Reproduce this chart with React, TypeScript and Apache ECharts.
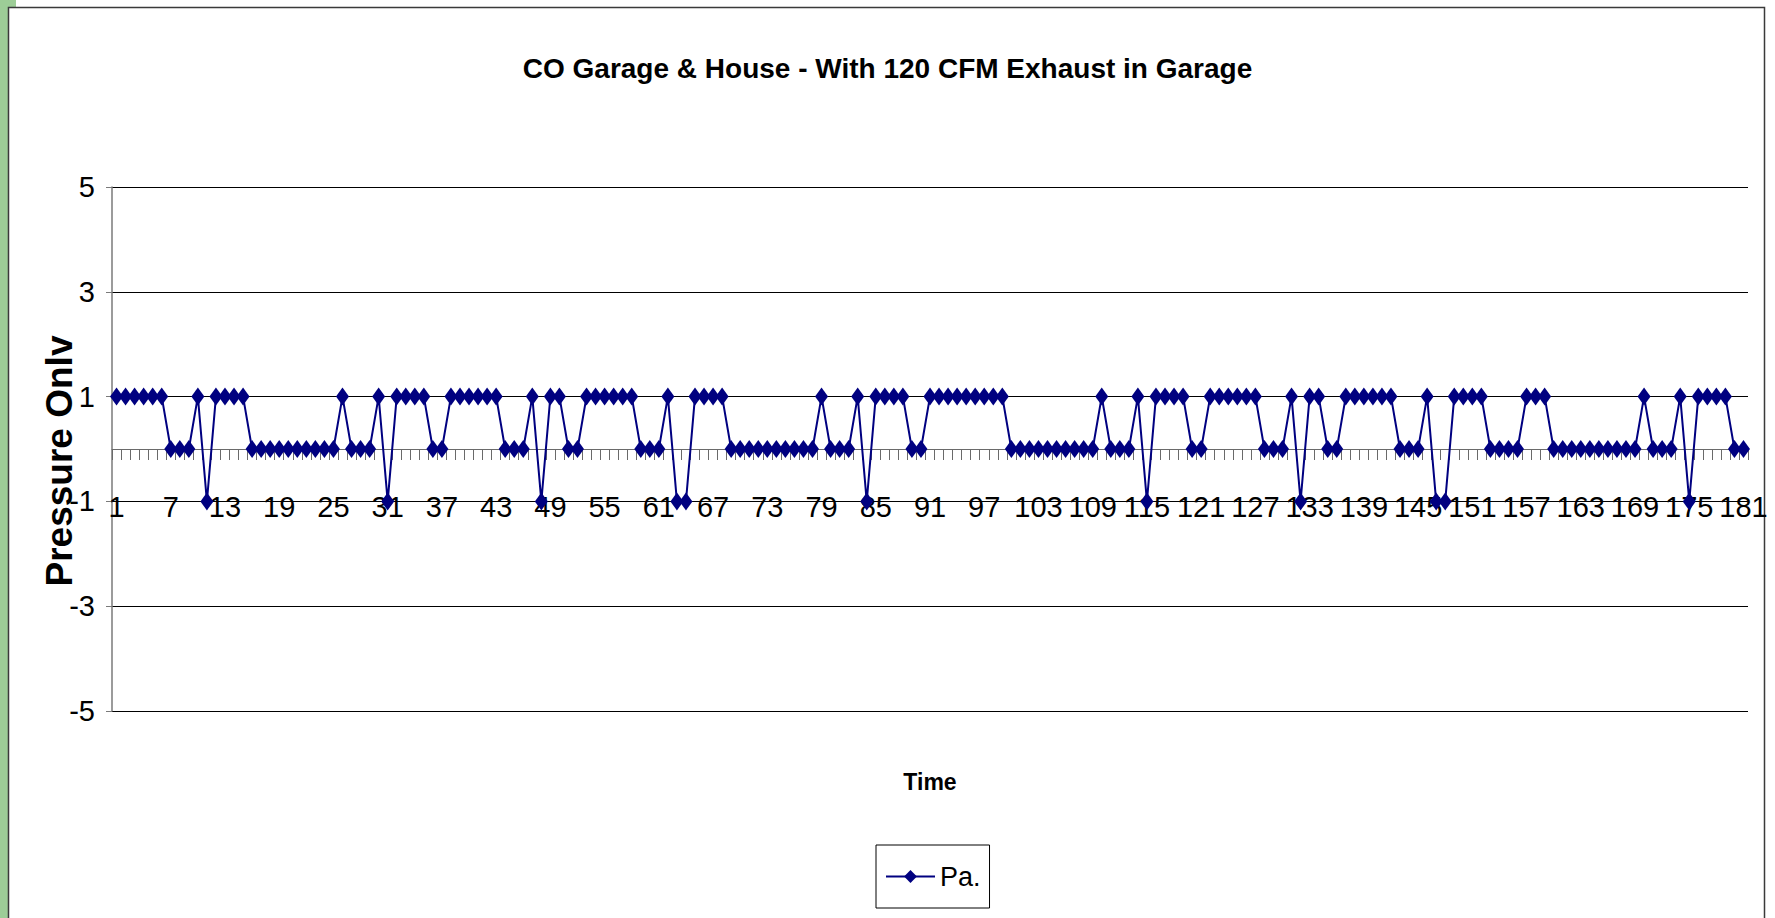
import React, { useEffect, useRef } from "react";
import * as echarts from "echarts";

const titleText = "CO Garage & House - With 120 CFM Exhaust in Garage";
const yAxisName = "Pressure Onlv";
const xAxisName = "Time";
const seriesName = "Pa.";

const timeCategories: string[] = Array.from({ length: 181 }, (_, i) => String(i + 1));

const yTickValues = [-5, -3, -1, 1, 3, 5];

const pressureValues = [
  1, 1, 1, 1, 1, 1, 0, 0, 0, 1,
  -1, 1, 1, 1, 1, 0, 0, 0, 0, 0,
  0, 0, 0, 0, 0, 1, 0, 0, 0, 1,
  -1, 1, 1, 1, 1, 0, 0, 1, 1, 1,
  1, 1, 1, 0, 0, 0, 1, -1, 1, 1,
  0, 0, 1, 1, 1, 1, 1, 1, 0, 0,
  0, 1, -1, -1, 1, 1, 1, 1, 0, 0,
  0, 0, 0, 0, 0, 0, 0, 0, 1, 0,
  0, 0, 1, -1, 1, 1, 1, 1, 0, 0,
  1, 1, 1, 1, 1, 1, 1, 1, 1, 0,
  0, 0, 0, 0, 0, 0, 0, 0, 0, 1,
  0, 0, 0, 1, -1, 1, 1, 1, 1, 0,
  0, 1, 1, 1, 1, 1, 1, 0, 0, 0,
  1, -1, 1, 1, 0, 0, 1, 1, 1, 1,
  1, 1, 0, 0, 0, 1, -1, -1, 1, 1,
  1, 1, 0, 0, 0, 0, 1, 1, 1, 0,
  0, 0, 0, 0, 0, 0, 0, 0, 0, 1,
  0, 0, 0, 1, -1, 1, 1, 1, 1, 0,
  0,
];

const FONT = "'Liberation Sans', Arial, Helvetica, sans-serif";

export default function App() {
  const ref = useRef<HTMLDivElement>(null);

  useEffect(() => {
    if (!ref.current) return;
    const chart = echarts.init(ref.current, undefined, { renderer: "svg" });
    chart.setOption({
      animation: false,
      backgroundColor: "#ffffff",
      graphic: [
        { type: "rect", shape: { x: 0, y: 0, width: 8, height: 918 }, style: { fill: "#9dcd97" }, silent: true },
        { type: "rect", shape: { x: 0, y: 0, width: 16, height: 7 }, style: { fill: "#9dcd97" }, silent: true },
        {
          type: "rect",
          shape: { x: 8.5, y: 7.5, width: 1756, height: 930 },
          style: { fill: "none", stroke: "#3a3a3a", lineWidth: 1.5 },
          silent: true,
        },
      ],
      title: {
        text: titleText,
        left: "center",
        top: 49,
        textStyle: { fontFamily: FONT, fontWeight: "bold", fontSize: 28, color: "#000" },
      },
      grid: { left: 112, right: 27, top: 187, bottom: 207, containLabel: false, outerBoundsMode: "none" },
      legend: {
        left: 876,
        top: 845,
        orient: "horizontal",
        itemWidth: 49,
        itemHeight: 16,
        itemGap: 6,
        padding: [18, 9],
        borderColor: "#000",
        borderWidth: 1,
        textStyle: { fontFamily: FONT, fontSize: 27, color: "#000" },
        data: [seriesName],
      },
      xAxis: {
        type: "category",
        data: timeCategories,
        boundaryGap: true,
        name: xAxisName,
        nameLocation: "middle",
        nameGap: 59,
        nameMoveOverlap: false,
        nameTextStyle: { fontFamily: FONT, fontWeight: "bold", fontSize: 23, color: "#000" },
        axisLine: { onZero: true, lineStyle: { color: "#6a6a6a", width: 1 } },
        axisTick: { show: true, interval: 0, length: 11, lineStyle: { color: "#6a6a6a", width: 1 } },
        axisLabel: { interval: 5, margin: -219, fontFamily: FONT, fontSize: 29, color: "#000" },
        splitLine: { show: false },
      },
      yAxis: {
        type: "value",
        min: -5,
        max: 5,
        name: yAxisName,
        nameLocation: "middle",
        nameRotate: 90,
        nameGap: 34,
        nameMoveOverlap: false,
        nameTextStyle: {
          fontFamily: FONT,
          fontWeight: "bold",
          fontSize: 37,
          color: "#000",
          padding: [0, 24, 0, 0],
        },
        axisLine: { show: true, lineStyle: { color: "#7a7a7a", width: 1.5 } },
        axisTick: { show: true, length: 6, customValues: yTickValues, lineStyle: { color: "#7a7a7a" } },
        axisLabel: { margin: 17, customValues: yTickValues, fontFamily: FONT, fontSize: 29, color: "#000" },
        splitLine: { show: true, lineStyle: { color: "#000", width: 1 } },
      },
      series: [
        {
          name: seriesName,
          type: "line",
          data: pressureValues,
          color: "#000080",
          lineStyle: { color: "#000080", width: 2 },
          itemStyle: { color: "#000080" },
          symbol: "diamond",
          symbolSize: [13, 18],
          showAllSymbol: true,
        },
      ],
    });
    return () => chart.dispose();
  }, []);

  return (
    <div
      ref={ref}
      style={{ position: "absolute", left: 0, top: 0, width: 1775, height: 918 }}
    />
  );
}
